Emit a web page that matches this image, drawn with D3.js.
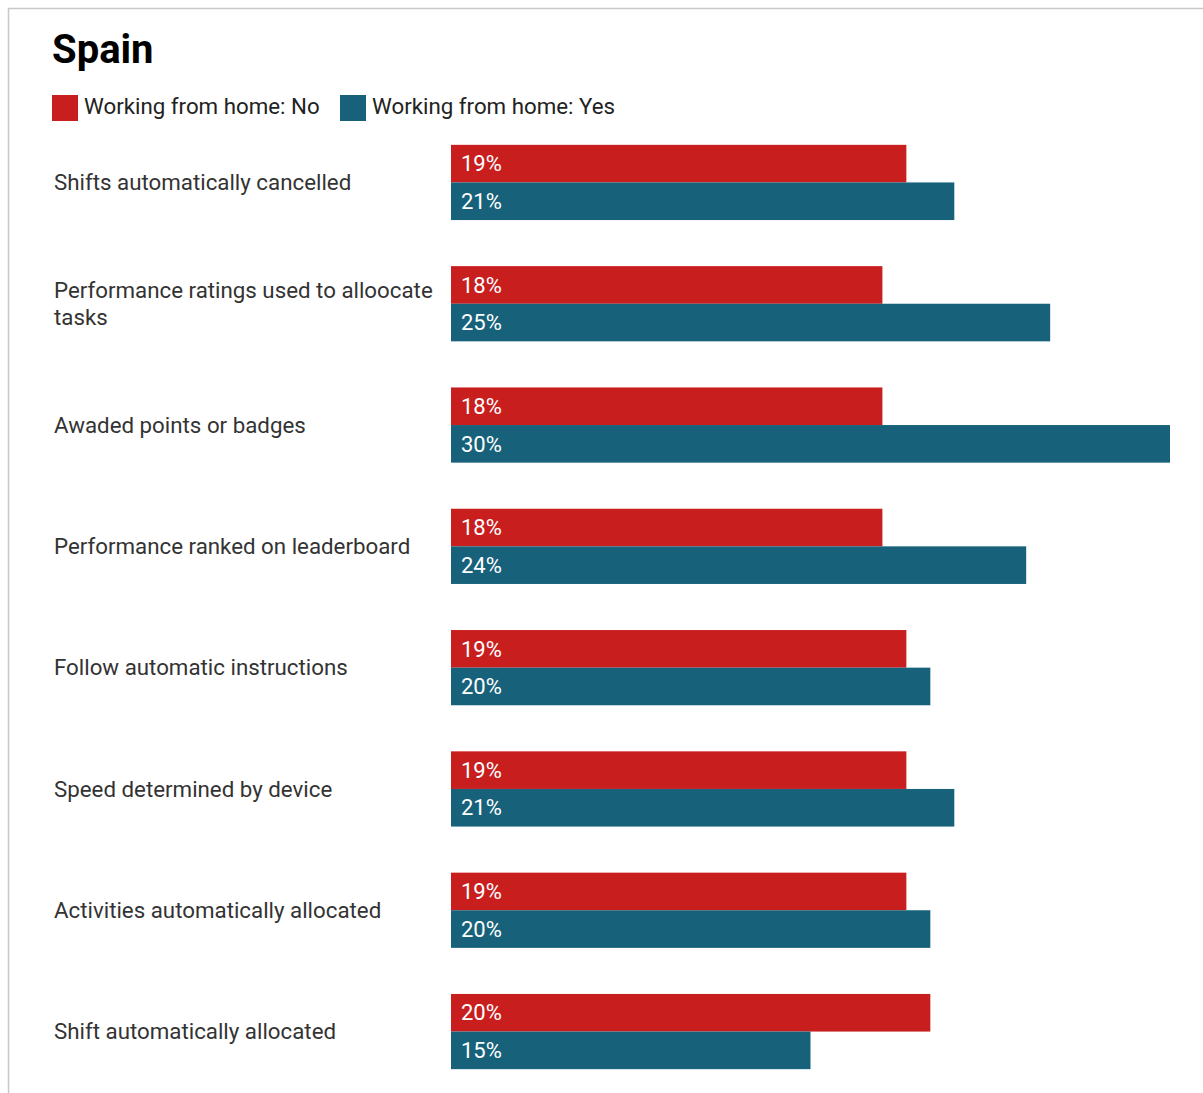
<!DOCTYPE html>
<html>
<head>
<meta charset="utf-8">
<script src="https://cdn.jsdelivr.net/npm/d3@7"></script>
<style>
  html, body { margin: 0; padding: 0; background: #fff; }
  svg { display: block; }
  text { font-family: Roboto, "Noto Sans", sans-serif; }
</style>
</head>
<body>
<div id="chart"></div>
<script>
// Share of workers reporting each practice, Spain, split by home working
const categories = [
  "Shifts automatically cancelled",
  "Performance ratings used to alloocate tasks",
  "Awaded points or badges",
  "Performance ranked on leaderboard",
  "Follow automatic instructions",
  "Speed determined by device",
  "Activities automatically allocated",
  "Shift automatically allocated"
];
const seriesNames = ["Working from home: No", "Working from home: Yes"];
const valuesNo  = [19, 18, 18, 18, 19, 19, 19, 20];
const valuesYes = [21, 25, 30, 24, 20, 21, 20, 15];
const seriesColors = ["#c91e1e", "#17627a"];

const W = 1203, H = 1093;
const svg = d3.select("#chart").append("svg").attr("width", W).attr("height", H);

// frame lines along the top and left
svg.append("line").attr("x1", 8).attr("x2", W).attr("y1", 8.5).attr("y2", 8.5)
  .attr("stroke", "#c8c8c8").attr("stroke-width", 1.5);
svg.append("line").attr("x1", 8.5).attr("x2", 8.5).attr("y1", 8).attr("y2", H)
  .attr("stroke", "#c8c8c8").attr("stroke-width", 1.5);

svg.append("text").attr("x", 52).attr("y", 63)
  .attr("font-size", 40).attr("font-weight", 700).attr("fill", "#000")
  .text("Spain");

// legend
const legendX = [52, 340];
seriesNames.forEach((name, i) => {
  const g = svg.append("g").attr("transform", `translate(${legendX[i]},95)`);
  g.append("rect").attr("width", 26).attr("height", 26).attr("fill", seriesColors[i]);
  g.append("text").attr("x", 32).attr("y", 11).attr("dy", "0.35em")
    .attr("font-size", 22.3).attr("fill", "#222").text(name);
});

const x = d3.scaleLinear().domain([0, 30]).range([451, 1170]);
const y = d3.scaleBand().domain(categories).range([123, 1091]).paddingInner(0.38).paddingOuter(0.18);
const inner = d3.scaleBand().domain([0, 1]).range([0, y.bandwidth()]);

const rows = categories.map((c, i) => ({ c, v: [valuesNo[i], valuesYes[i]] }));

const groups = svg.selectAll("g.row").data(rows).join("g")
  .attr("class", "row")
  .attr("transform", d => `translate(0,${y(d.c)})`);

// category labels, wrapped to fit left of the bars
groups.each(function(d) {
  const g = d3.select(this);
  const maxW = 385;
  const words = d.c.split(" ");
  const lines = [];
  let line = [];
  const t = g.append("text").attr("font-size", 22.3).attr("fill", "#333");
  words.forEach(w => {
    line.push(w);
    t.text(line.join(" "));
    if (t.node().getComputedTextLength() > maxW && line.length > 1) {
      line.pop();
      lines.push(line.join(" "));
      line = [w];
    }
  });
  lines.push(line.join(" "));
  t.text(null);
  const lh = 27;
  const y0 = y.bandwidth() / 2 - (lines.length - 1) * lh / 2;
  lines.forEach((l, k) => {
    t.append("tspan").attr("x", 54).attr("y", y0 + k * lh).attr("dy", "0.35em").text(l);
  });
});

groups.selectAll("rect.bar").data(d => d.v.map((v, k) => ({ v, k }))).join("rect")
  .attr("class", "bar")
  .attr("x", x(0))
  .attr("y", d => inner(d.k))
  .attr("width", d => x(d.v) - x(0))
  .attr("height", inner.bandwidth())
  .attr("fill", d => seriesColors[d.k]);

groups.selectAll("text.val").data(d => d.v.map((v, k) => ({ v, k }))).join("text")
  .attr("class", "val")
  .attr("x", x(0) + 10)
  .attr("y", d => inner(d.k) + inner.bandwidth() / 2)
  .attr("dy", "0.35em")
  .attr("font-size", 22).attr("fill", "#fff")
  .text(d => d.v + "%");
</script>
</body>
</html>
